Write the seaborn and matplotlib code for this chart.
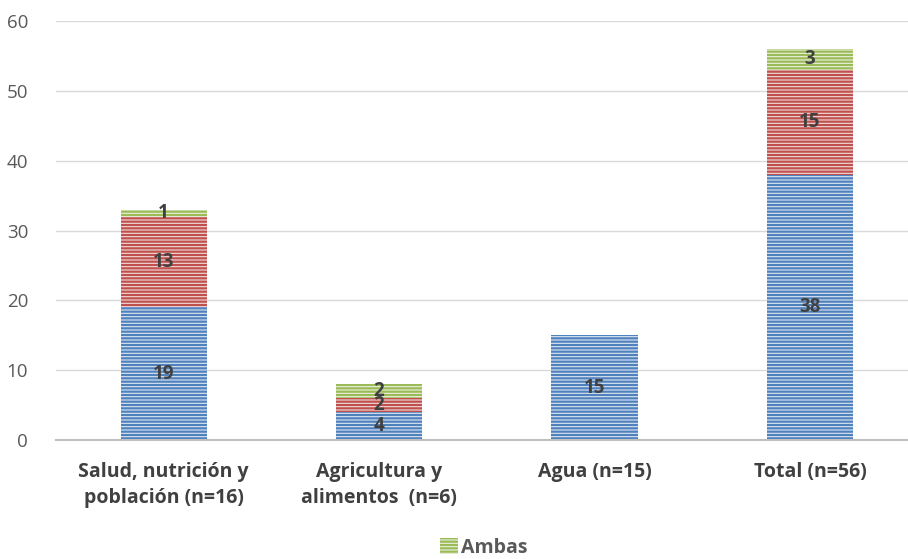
import matplotlib
matplotlib.use("Agg")
import matplotlib.pyplot as plt
import seaborn as sns
import pandas as pd
from matplotlib.patches import Patch

categories = ["Salud, nutrición y\npoblación (n=16)", "Agricultura y\nalimentos  (n=6)", "Agua (n=15)", "Total (n=56)"]
serie_a = [19, 4, 15, 38]
serie_b = [13, 2, 0, 15]
ambas = [1, 2, 0, 3]
series_names = ["Serie A", "Serie B", "Ambas"]

sns.set_theme(style="white")
plt.rcParams['font.family'] = ['Open Sans', 'DejaVu Sans']
plt.rcParams['hatch.linewidth'] = 1.6

fig = plt.figure(figsize=(9.08, 5.59), dpi=100)
ax = fig.add_axes([56/908, 1-440/559, (908-56)/908, (440-21)/559])

face = ["#DCE6F2", "#F2DCDB", "#EBF1DE"]
edge = ["#4F81BD", "#C0504D", "#9BBB59"]
vals = [serie_a, serie_b, ambas]
bottom = [0]*4
for i, v in enumerate(vals):
    df = pd.DataFrame({"cat": categories, "val": v})
    sns.barplot(data=df, x="cat", y="val", ax=ax, bottom=bottom, width=0.4,
                color=face[i], edgecolor=edge[i], linewidth=0, hatch="-----",
                saturation=1)
    for j, (b, h) in enumerate(zip(bottom, v)):
        if h > 0:
            ax.text(j, b + h/2, str(h), ha="center", va="center",
                    fontsize=13.5, fontweight="bold", color="#404040")
    bottom = [b + h for b, h in zip(bottom, v)]

ax.set_ylim(0, 60)
ax.set_xlim(-0.5, 3.455)
ax.set_yticks(range(0, 61, 10))
ax.yaxis.grid(True, color="#D9D9D9", linewidth=1)
ax.set_axisbelow(True)
for s in ["top", "right", "left"]:
    ax.spines[s].set_visible(False)
ax.spines["bottom"].set_color("#BFBFBF")
ax.spines["bottom"].set_linewidth(1.5)
ax.set_xlabel("")
ax.set_ylabel("")
ax.tick_params(axis="y", length=0, labelsize=13.5, labelcolor="#595959", pad=20)
ax.tick_params(axis="x", length=0, labelsize=14, labelcolor="#404040", pad=16)
for t in ax.get_xticklabels():
    t.set_fontweight("bold")
    t.set_linespacing(1.4)

handle = Patch(facecolor=face[2], edgecolor=edge[2], hatch="-----", linewidth=0)
fig.legend([handle], [series_names[2]], loc="center", bbox_to_anchor=(484/908, 1-548/559),
           frameon=False, prop={"weight": "bold", "size": 14},
           handlelength=0.9, handleheight=0.9, handletextpad=0.2, labelcolor="#595959")

fig.savefig("out.png", dpi=100)
